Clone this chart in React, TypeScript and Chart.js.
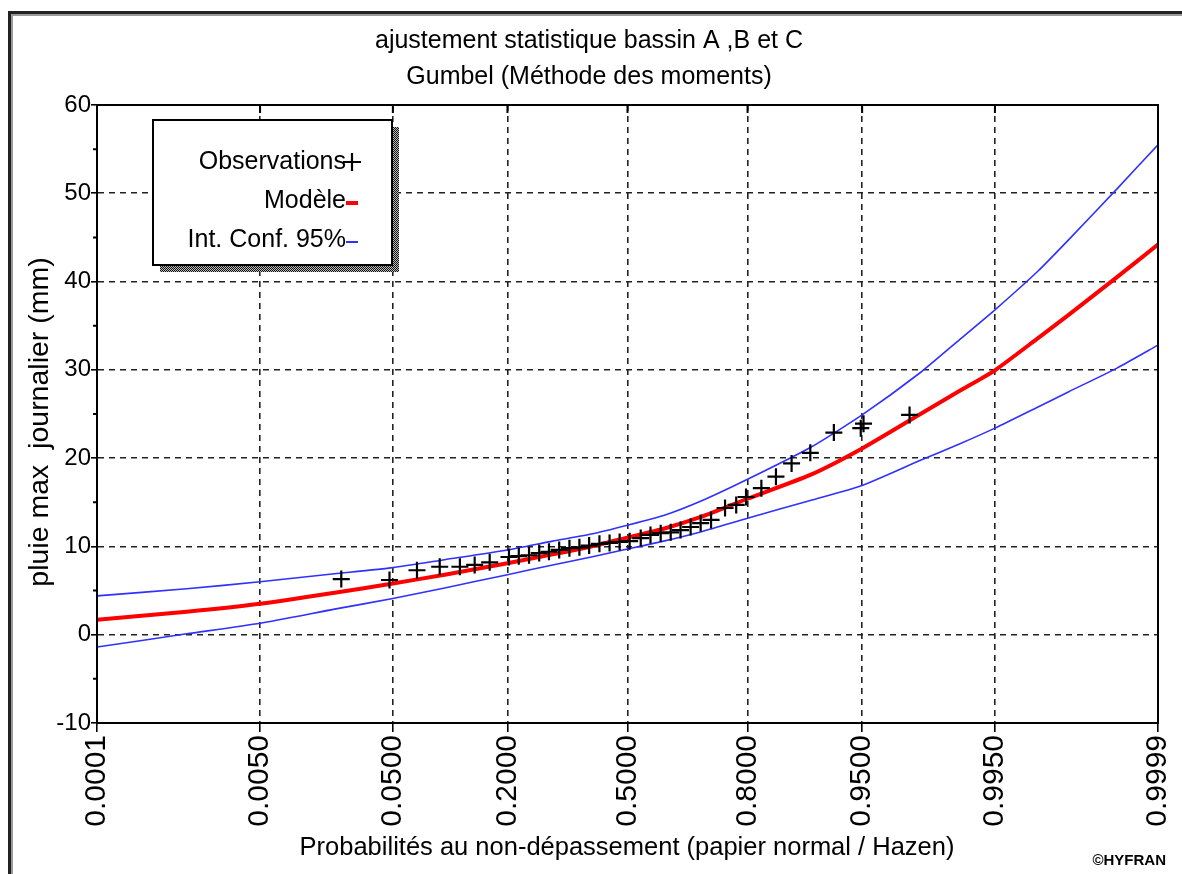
import React, { useEffect, useRef } from 'react';
import { Chart, registerables } from 'chart.js';

Chart.register(...registerables);

const TITLE_LINES = ['ajustement statistique bassin A ,B et C', 'Gumbel (Méthode des moments)'];
const Y_TITLE = 'pluie max  journalier (mm)';
const X_TITLE = 'Probabilités au non-dépassement (papier normal / Hazen)';
const CREDIT = '©HYFRAN';
const LEGEND_LABELS = ['Observations', 'Modèle', 'Int. Conf. 95%'];

const tickProbs = [0.0001, 0.005, 0.05, 0.2, 0.5, 0.8, 0.95, 0.995, 0.9999];
const tickLabels = ['0.0001', '0.0050', '0.0500', '0.2000', '0.5000', '0.8000', '0.9500', '0.9950', '0.9999'];
const yMin = -10;
const yMax = 60;
const yStep = 10;
const yMinorTicks = [-5, 5, 15, 25, 35, 45, 55];

const obsProb = [
  0.0224, 0.0476, 0.070, 0.094, 0.120, 0.142, 0.167, 0.203, 0.223, 0.245,
  0.268, 0.291, 0.316, 0.342, 0.368, 0.394, 0.422, 0.450, 0.478, 0.506,
  0.537, 0.564, 0.592, 0.619, 0.645, 0.671, 0.696, 0.721, 0.753, 0.777,
  0.797, 0.826, 0.851, 0.875, 0.900, 0.926, 0.949, 0.951, 0.976,
];
const obsValue = [
  6.3, 6.2, 7.3, 7.7, 7.7, 7.9, 8.2, 8.8, 8.9, 9.0,
  9.25, 9.4, 9.6, 9.8, 9.9, 10.1, 10.3, 10.4, 10.5, 10.6,
  10.95, 11.3, 11.5, 11.6, 11.85, 12.2, 12.65, 13.0, 14.35, 14.7,
  15.6, 16.6, 17.9, 19.4, 20.6, 22.9, 23.4, 23.9, 24.9,
];

const curveProb = [
  0.0001, 0.001, 0.005, 0.02, 0.05, 0.1, 0.2, 0.3, 0.4, 0.5, 0.6,
  0.7, 0.8, 0.9, 0.95, 0.98, 0.99, 0.995, 0.998, 0.999, 0.9997, 0.9999,
];
const modelValue = [
  1.7, 2.6, 3.5, 4.75, 5.8, 6.8, 8.1, 9.1, 10.0, 11.0, 12.0,
  13.4, 15.4, 18.1, 21.1, 25.0, 27.6, 29.95, 33.6, 36.2, 40.5, 44.2,
];
const upperValue = [
  4.4, 5.2, 6.0, 6.9, 7.6, 8.5, 9.6, 10.6, 11.4, 12.4, 13.5,
  15.2, 17.6, 21.2, 24.9, 29.7, 33.4, 36.8, 41.2, 44.7, 50.5, 55.5,
];
const lowerValue = [
  -1.4, 0.1, 1.3, 2.9, 4.1, 5.3, 6.8, 7.9, 8.8, 9.7, 10.6,
  11.7, 13.2, 15.2, 16.9, 19.75, 21.6, 23.4, 25.8, 27.5, 30.2, 32.8,
];

// inverse standard normal CDF (normal probability paper transform)
function normInv(p: number): number {
  const a = [-3.969683028665376e1, 2.209460984245205e2, -2.759285104469687e2, 1.38357751867269e2, -3.066479806614716e1, 2.506628277459239];
  const b = [-5.447609879822406e1, 1.615858368580409e2, -1.556989798598866e2, 6.680131188771972e1, -1.328068155288572e1];
  const c = [-7.784894002430293e-3, -3.223964580411365e-1, -2.400758277161838, -2.549732539343734, 4.374664141464968, 2.938163982698783];
  const d = [7.784695709041462e-3, 3.224671290700398e-1, 2.445134137142996, 3.754408661907416];
  const pl = 0.02425;
  if (p < pl) {
    const q = Math.sqrt(-2 * Math.log(p));
    return (((((c[0] * q + c[1]) * q + c[2]) * q + c[3]) * q + c[4]) * q + c[5]) / ((((d[0] * q + d[1]) * q + d[2]) * q + d[3]) * q + 1);
  }
  if (p > 1 - pl) {
    const q = Math.sqrt(-2 * Math.log(1 - p));
    return -(((((c[0] * q + c[1]) * q + c[2]) * q + c[3]) * q + c[4]) * q + c[5]) / ((((d[0] * q + d[1]) * q + d[2]) * q + d[3]) * q + 1);
  }
  const q = p - 0.5;
  const r = q * q;
  return (((((a[0] * r + a[1]) * r + a[2]) * r + a[3]) * r + a[4]) * r + a[5]) * q / (((((b[0] * r + b[1]) * r + b[2]) * r + b[3]) * r + b[4]) * r + 1);
}

const FONT = "'Liberation Sans', Arial, sans-serif";
const W = 1182;
const H = 874;

const decorPlugin = {
  id: 'decor',
  afterDraw(chart: any) {
    const ctx = chart.ctx as CanvasRenderingContext2D;
    const area = chart.chartArea;
    const xs = chart.scales.x;
    const ysc = chart.scales.y;
    ctx.save();
    // plot frame
    ctx.strokeStyle = '#000';
    ctx.lineWidth = 2;
    ctx.setLineDash([]);
    ctx.strokeRect(area.left, area.top, area.right - area.left, area.bottom - area.top);

    // inner ticks along the top border
    ctx.lineWidth = 2;
    ctx.beginPath();
    tickProbs.forEach((p) => {
      const px = xs.getPixelForValue(normInv(p));
      ctx.moveTo(px, area.top);
      ctx.lineTo(px, area.top + 8);
    });
    // minor ticks on the left axis
    yMinorTicks.forEach((v) => {
      const py = ysc.getPixelForValue(v);
      ctx.moveTo(area.left - 4, py);
      ctx.lineTo(area.left, py);
    });
    ctx.stroke();

    // outer window frame
    ctx.fillStyle = '#222';
    ctx.fillRect(8, 11, W - 8, 3);
    ctx.fillRect(8, 11, 3, H - 11);
    ctx.fillStyle = '#9a9a9a';
    ctx.fillRect(11, 14, W - 11, 2);
    ctx.fillRect(11, 14, 2, H - 14);

    // titles
    ctx.fillStyle = '#000';
    ctx.textAlign = 'center';
    ctx.textBaseline = 'middle';
    ctx.font = `25px ${FONT}`;
    ctx.fillText(TITLE_LINES[0], 589, 41);
    ctx.fillText(TITLE_LINES[1], 589, 77);

    ctx.font = `25.5px ${FONT}`;
    ctx.fillText(X_TITLE, 627, 848);

    ctx.save();
    ctx.translate(40, 422);
    ctx.rotate(-Math.PI / 2);
    ctx.font = `28.5px ${FONT}`;
    ctx.fillText(Y_TITLE, 0, 0);
    ctx.restore();

    ctx.font = `bold 15px ${FONT}`;
    ctx.textAlign = 'right';
    ctx.fillText(CREDIT, 1166, 861);

    // legend box with hatched shadow
    const bx = 153, by = 120, bw = 239, bh = 145;
    const pc = document.createElement('canvas');
    pc.width = 2; pc.height = 2;
    const pctx = pc.getContext('2d')!;
    pctx.fillStyle = '#bbb';
    pctx.fillRect(0, 0, 2, 2);
    pctx.fillStyle = '#111';
    pctx.fillRect(0, 0, 1, 1);
    pctx.fillRect(1, 1, 1, 1);
    const pat = ctx.createPattern(pc, 'repeat');
    if (pat) ctx.fillStyle = pat;
    ctx.fillRect(bx + bw, by + 7, 7, bh);
    ctx.fillRect(bx + 7, by + bh, bw, 7);
    ctx.fillStyle = '#fff';
    ctx.fillRect(bx, by, bw, bh);
    ctx.strokeStyle = '#000';
    ctx.lineWidth = 2;
    ctx.strokeRect(bx, by, bw, bh);

    ctx.fillStyle = '#000';
    ctx.font = `25px ${FONT}`;
    ctx.textAlign = 'right';
    ctx.textBaseline = 'middle';
    const ly = [162, 201, 240];
    LEGEND_LABELS.forEach((t, i) => ctx.fillText(t, 346, ly[i]));
    // symbols
    ctx.strokeStyle = '#000';
    ctx.lineWidth = 2.2;
    ctx.beginPath();
    ctx.moveTo(343, ly[0]); ctx.lineTo(361, ly[0]);
    ctx.moveTo(352, ly[0] - 9); ctx.lineTo(352, ly[0] + 9);
    ctx.stroke();
    ctx.strokeStyle = '#ff0000';
    ctx.lineWidth = 4;
    ctx.beginPath();
    ctx.moveTo(346, ly[1] + 2); ctx.lineTo(358, ly[1] + 2);
    ctx.stroke();
    ctx.strokeStyle = '#3030ff';
    ctx.lineWidth = 2;
    ctx.beginPath();
    ctx.moveTo(346, ly[2] + 2); ctx.lineTo(358, ly[2] + 2);
    ctx.stroke();
    ctx.restore();
  },
};

export default function App() {
  const ref = useRef<HTMLCanvasElement | null>(null);
  useEffect(() => {
    if (!ref.current) return;
    const toPts = (vals: number[]) => curveProb.map((p, i) => ({ x: normInv(p), y: vals[i] }));
    const chart = new Chart(ref.current, {
      type: 'scatter',
      data: {
        datasets: [
          { label: 'sup', order: 3, data: toPts(upperValue), showLine: true, borderColor: '#3030ff', borderWidth: 1.6, pointRadius: 0, tension: 0.2 },
          { label: 'inf', order: 2, data: toPts(lowerValue), showLine: true, borderColor: '#3030ff', borderWidth: 1.6, pointRadius: 0, tension: 0.2 },
          { label: 'Modèle', order: 1, data: toPts(modelValue), showLine: true, borderColor: '#ff0000', borderWidth: 4, pointRadius: 0, tension: 0.2 },
          {
            label: 'Observations',
            order: 0,
            data: obsProb.map((p, i) => ({ x: normInv(p), y: obsValue[i] })),
            showLine: false,
            pointStyle: 'cross',
            pointRadius: 8.5,
            borderColor: '#000',
            backgroundColor: '#000',
            borderWidth: 2.2,
          },
        ],
      } as any,
      options: {
        responsive: false,
        animation: false,
        devicePixelRatio: 1,
        layout: { padding: { left: 0, right: 24, top: 105, bottom: 0 } },
        plugins: { legend: { display: false }, title: { display: false }, tooltip: { enabled: false } },
        scales: {
          x: {
            type: 'linear',
            min: normInv(tickProbs[0]),
            max: normInv(tickProbs[tickProbs.length - 1]),
            afterBuildTicks: (s: any) => { s.ticks = tickProbs.map((p) => ({ value: normInv(p) })); },
            afterFit: (s: any) => { s.height = H - 723; s.paddingLeft = 0; s.paddingRight = 0; },
            ticks: {
              autoSkip: false,
              minRotation: 90,
              maxRotation: 90,
              padding: 3,
              color: '#000',
              font: { family: FONT, size: 30 },
              callback: (_v: any, i: number) => tickLabels[i],
            },
            grid: { color: '#222', lineWidth: 1.6, tickLength: 9, tickColor: '#000', tickWidth: 1.6 },
            border: { display: true, color: '#000', width: 2, dash: [6, 5] },
          },
          y: {
            type: 'linear',
            min: yMin,
            max: yMax,
            afterFit: (s: any) => { s.width = 97; s.paddingTop = 0; s.paddingBottom = 0; },
            ticks: { stepSize: yStep, padding: 0, color: '#000', font: { family: FONT, size: 24 } },
            grid: { color: '#222', lineWidth: 1.6, tickLength: 6, tickColor: '#000', tickWidth: 1.6 },
            border: { display: true, color: '#000', width: 2, dash: [6, 5] },
          },
        },
      } as any,
      plugins: [decorPlugin],
    });
    return () => chart.destroy();
  }, []);
  return (
    <div style={{ position: 'fixed', left: 0, top: 0, width: W, height: H, background: '#fff' }}>
      <canvas ref={ref} width={W} height={H} style={{ width: W, height: H, display: 'block' }} />
    </div>
  );
}
